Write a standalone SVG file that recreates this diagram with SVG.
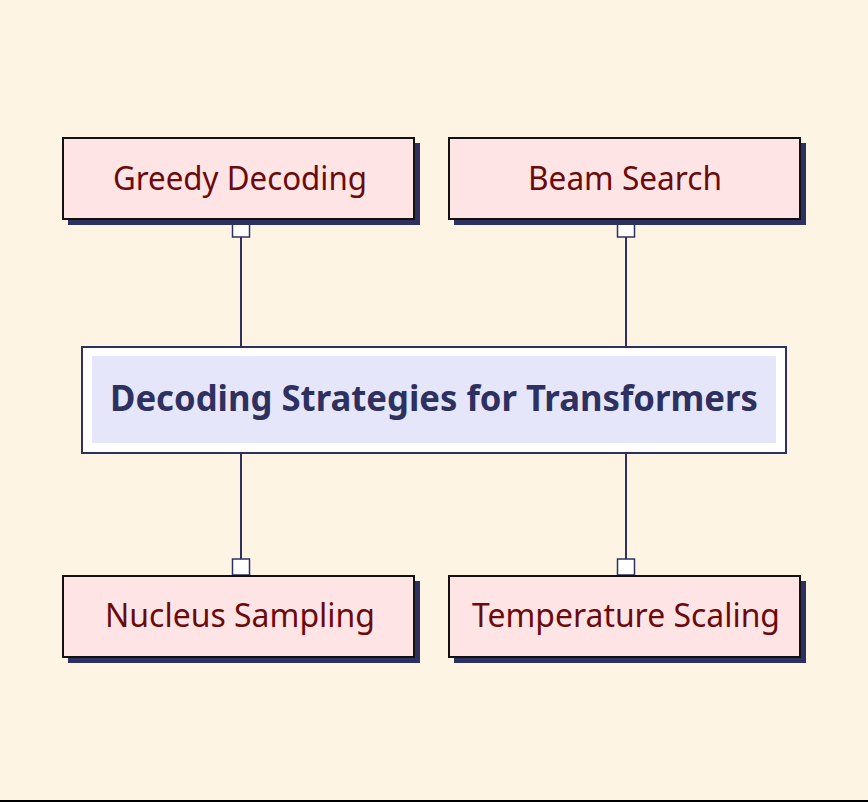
<svg xmlns="http://www.w3.org/2000/svg" width="868" height="802" viewBox="0 0 868 802">
<defs>
<style>
.bg{fill:#fef4e4}
.shadow{fill:#2e3160}
.box{fill:#ffe4e6;stroke:#111;stroke-width:2}
.lbl{font-family:"Source Sans Pro","Noto Sans","Liberation Sans",sans-serif;font-size:33px;fill:#6b0a0a;text-anchor:middle;dominant-baseline:central}
.conn{stroke:#2e3160;stroke-width:2;fill:none}
.mk{fill:#ffffff;stroke:#2e3160;stroke-width:1.5}
.title{font-family:"Source Sans Pro","Noto Sans","Liberation Sans",sans-serif;font-size:35px;font-weight:bold;fill:#2e3160;text-anchor:middle;dominant-baseline:central}
</style>
</defs>
<rect class="bg" x="0" y="0" width="868" height="802"/>
<line x1="0" y1="801" x2="868" y2="801" stroke="#000" stroke-width="2"/>
<g id="connectors">
<line class="conn" x1="241" y1="237" x2="241" y2="347"/>
<line class="conn" x1="626" y1="237" x2="626" y2="347"/>
<line class="conn" x1="241" y1="453" x2="241" y2="560"/>
<line class="conn" x1="626" y1="453" x2="626" y2="560"/>
<rect class="mk" x="232.5" y="221" width="17" height="16"/>
<rect class="mk" x="617.5" y="221" width="17" height="16"/>
<rect class="mk" x="232.5" y="559" width="17" height="16"/>
<rect class="mk" x="617.5" y="559" width="17" height="16"/>
</g>
<g id="greedy">
<rect class="shadow" x="68" y="143" width="352" height="82"/>
<rect class="box" x="63" y="138" width="351" height="81"/>
<text class="lbl" x="240" y="177" textLength="254" lengthAdjust="spacingAndGlyphs">Greedy Decoding</text>
</g>
<g id="beam">
<rect class="shadow" x="454" y="143" width="352" height="82"/>
<rect class="box" x="449" y="138" width="351" height="81"/>
<text class="lbl" x="625" y="177" textLength="194" lengthAdjust="spacingAndGlyphs">Beam Search</text>
</g>
<g id="center">
<rect x="82" y="347" width="704" height="106" fill="#ffffff" stroke="#2e3160" stroke-width="2"/>
<rect x="92" y="356" width="684" height="87" fill="#e6e6fa"/>
<text class="title" x="434" y="397" textLength="648" lengthAdjust="spacingAndGlyphs">Decoding Strategies for Transformers</text>
</g>
<g id="nucleus">
<rect class="shadow" x="68" y="581" width="352" height="82"/>
<rect class="box" x="63" y="576" width="351" height="81"/>
<text class="lbl" x="240" y="614" textLength="270" lengthAdjust="spacingAndGlyphs">Nucleus Sampling</text>
</g>
<g id="temperature">
<rect class="shadow" x="454" y="581" width="352" height="82"/>
<rect class="box" x="449" y="576" width="351" height="81"/>
<text class="lbl" x="626" y="614" textLength="308" lengthAdjust="spacingAndGlyphs">Temperature Scaling</text>
</g>
</svg>
